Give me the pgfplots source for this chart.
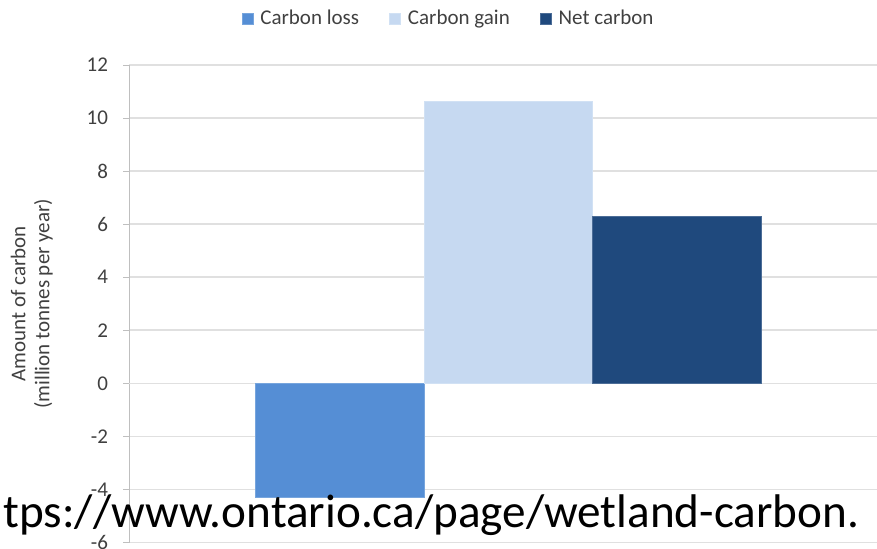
\documentclass[border=0pt]{standalone}
\usepackage{fontspec}
\setmainfont{Carlito}
\usepackage{pgfplots}
\pgfplotsset{compat=1.18}
\definecolor{closs}{HTML}{558ED5}
\definecolor{cgain}{HTML}{C6D9F1}
\definecolor{cnet}{HTML}{1F497D}
\definecolor{txt}{HTML}{404040}
\begin{document}
\begin{tikzpicture}
\path[use as bounding box] (0,0) rectangle (438.5pt,274pt);
\begin{axis}[
  at={(64.5pt,2.75pt)}, anchor=south west,
  scale only axis, width=374pt, height=238.75pt,
  xmin=-1.247, xmax=3.184,
  ymin=-6, ymax=12,
  ytick={-6,-4,-2,0,2,4,6,8,10,12},
  yticklabels={-6,-4,-2,0,2,4,6,8,10,12},
  axis x line=none,
  axis y line=left,
  axis line style={draw=black!25, -},
  ytick style={draw=black!25},
  tick align=outside, major tick length=3pt,
  ymajorgrids, major grid style={draw=black!12, line width=0.8pt},
  extra y ticks={0}, extra y tick labels={},
  extra y tick style={grid style={draw=black!35, line width=0.8pt}, major tick length=0pt},
  tick label style={font=\fontsize{10.5pt}{12pt}\selectfont, text=txt},
  yticklabel style={xshift=-4pt},
  ylabel={Amount of carbon\\(million tonnes per year)},
  ylabel style={at={(axis description cs:-0.13,0.5)}, anchor=center, align=center,
    font=\fontsize{10.5pt}{12pt}\selectfont, text=txt},
  ybar, bar width=1, bar shift=0pt,
  legend columns=3,
  legend style={at={(axis description cs:0.4285,1.0965)}, anchor=center, draw=none, fill=none,
    font=\fontsize{10.5pt}{12pt}\selectfont, text=txt,
    /tikz/every odd column/.append style={column sep=1.5pt},
    /tikz/every even column/.append style={column sep=13pt}},
  legend image code/.code={\fill[#1] (0pt,-2.75pt) rectangle (5.5pt,2.75pt);},
  clip=true,
]
\addplot[fill=closs, draw=closs!80!white] coordinates {(0,-4.29)};
\addlegendentry{Carbon loss}
\addplot[fill=cgain, draw=cgain!80!white] coordinates {(1,10.61)};
\addlegendentry{Carbon gain}
\addplot[fill=cnet, draw=cnet!80!white] coordinates {(2,6.31)};
\addlegendentry{Net carbon}
\end{axis}
\node[anchor=base west, inner sep=0pt, font=\fontsize{23.6pt}{28pt}\selectfont] at (1.5pt,10.5pt) {tps://www.ontario.ca/page/wetland-carbon.};
\end{tikzpicture}
\end{document}
